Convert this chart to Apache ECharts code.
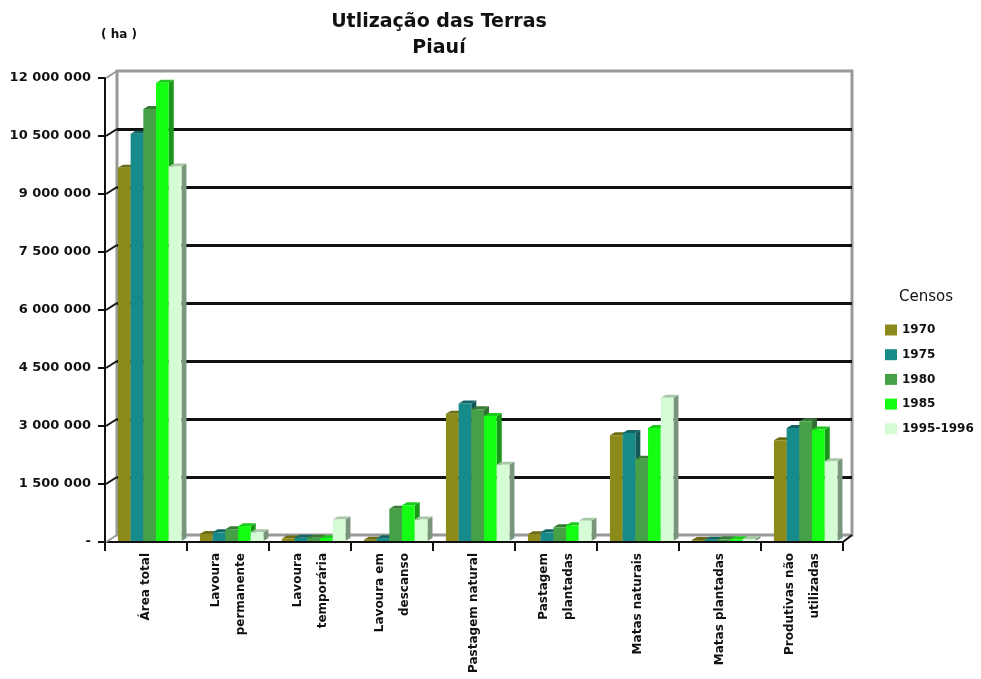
<!DOCTYPE html>
<html>
<head>
<meta charset="utf-8">
<script src="https://cdn.jsdelivr.net/npm/echarts@6/dist/echarts.min.js"></script>
<style>html,body{margin:0;padding:0;background:#fff}#c{width:981px;height:679px}</style>
</head>
<body>
<div id="c"></div>
<script>
const categories = ['Área total', 'Lavoura\npermanente', 'Lavoura\ntemporária', 'Lavoura em\ndescanso', 'Pastagem natural', 'Pastagem\nplantadas', 'Matas naturais', 'Matas plantadas', 'Produtivas não\nutilizadas'];
const seriesNames = ['1970', '1975', '1980', '1985', '1995-1996'];
const s1970 = [9680000, 210000, 90000, 60000, 3320000, 200000, 2760000, 50000, 2630000];
const s1975 = [10560000, 250000, 110000, 100000, 3580000, 250000, 2820000, 60000, 2950000];
const s1980 = [11200000, 330000, 110000, 860000, 3430000, 380000, 2150000, 70000, 3120000];
const s1985 = [11880000, 410000, 100000, 950000, 3260000, 430000, 2950000, 70000, 2910000];
const s1995 = [9710000, 250000, 580000, 580000, 2000000, 550000, 3730000, 80000, 2090000];
const yTicks = [0, 1500000, 3000000, 4500000, 6000000, 7500000, 9000000, 10500000, 12000000];

const allValues = [s1970, s1975, s1980, s1985, s1995];
const frontColors = ['#8c8a1a', '#178a8a', '#46a046', '#14ff14', '#d6fcd6'];
const topColors = ['#6e6c14', '#146464', '#367a36', '#1cc81c', '#a8c8a8'];
const sideColors = ['#666414', '#145858', '#2f6e2f', '#1a961a', '#7a967a'];
const FONT = 'DejaVu Sans';

function fmt(v) {
  if (v === 0) return '-';
  return String(v).replace(/\B(?=(\d{3})+(?!\d))/g, ' ');
}

function makeBarSeries(si) {
  return {
    type: 'custom',
    name: seriesNames[si],
    xAxisIndex: 0, yAxisIndex: 0,
    itemStyle: { color: frontColors[si] },
    data: allValues[si].map((v, i) => [i, v]),
    z: 5 + si,
    renderItem: function (params, api) {
      const ci = api.value(0), v = api.value(1);
      const base = api.coord([ci, 0]);
      const top = api.coord([ci, v]);
      const band = api.size([1, 0])[0];
      const bw = band * 0.155;
      const x0 = base[0] - band * 0.775 / 2 + band * 0.045 + si * bw;
      const dx = 5, dy = 3;
      const yb = base[1] - 1, yt = top[1];
      return {
        type: 'group',
        children: [
          { type: 'polygon', shape: { points: [[x0 + bw, yt], [x0 + bw + dx, yt - dy], [x0 + bw + dx, yb - dy], [x0 + bw, yb]] }, style: { fill: sideColors[si] } },
          { type: 'polygon', shape: { points: [[x0, yt], [x0 + dx, yt - dy], [x0 + bw + dx, yt - dy], [x0 + bw, yt]] }, style: { fill: topColors[si] } },
          { type: 'rect', shape: { x: x0, y: yt, width: bw, height: yb - yt }, style: { fill: frontColors[si] } }
        ]
      };
    }
  };
}

const chart = echarts.init(document.getElementById('c'), null, { renderer: 'canvas' });
const option = {
  backgroundColor: '#fff',
  animation: false,
  title: [
    { text: 'Utlização das Terras\nPiauí', left: 434, top: 4, textAlign: 'center',
      textStyle: { fontFamily: FONT, fontSize: 19, fontWeight: 'bold', color: '#111', lineHeight: 26 } },
    { text: '( ha )', left: 96, top: 24,
      textStyle: { fontFamily: FONT, fontSize: 12, fontWeight: 'bold', color: '#111' } },
    { text: 'Censos', left: 894, top: 285,
      textStyle: { fontFamily: FONT, fontSize: 15, fontWeight: 'normal', color: '#111' } }
  ],
  legend: {
    orient: 'vertical', left: 880, top: 319,
    itemWidth: 12, itemHeight: 11, itemGap: 12.7,
    icon: 'rect',
    data: seriesNames,
    textStyle: { fontFamily: FONT, fontSize: 12, fontWeight: 'bold', color: '#111' }
  },
  grid: [
    { left: 105, right: 138, top: 78, bottom: 137, show: false },
    { left: 117, right: 129, top: 71, bottom: 144, show: true, borderColor: '#999', borderWidth: 3, backgroundColor: 'transparent' }
  ],
  xAxis: [
    { gridIndex: 0, type: 'category', data: categories, boundaryGap: true,
      axisLine: { lineStyle: { color: '#111', width: 2 } },
      axisTick: { show: true, length: 9, lineStyle: { color: '#111', width: 2 } },
      axisLabel: { rotate: 90, interval: 0, margin: 11, fontFamily: FONT, fontSize: 12, fontWeight: 'bold', color: '#111', lineHeight: 25 } },
    { gridIndex: 1, type: 'category', data: categories, show: false }
  ],
  yAxis: [
    { gridIndex: 0, type: 'value', min: 0, max: 12000000, interval: 1500000,
      axisLine: { show: true, lineStyle: { color: '#111', width: 2 } },
      axisTick: { show: true, length: 7, lineStyle: { color: '#111', width: 2 } },
      splitLine: { show: false },
      axisLabel: { formatter: fmt, margin: 14, fontFamily: FONT, fontSize: 13, fontWeight: 'bold', color: '#111' } },
    { gridIndex: 1, type: 'value', min: 0, max: 12000000, interval: 1500000,
      axisLine: { show: false }, axisTick: { show: false }, axisLabel: { show: false },
      splitLine: { show: true, showMinLine: false, showMaxLine: false, lineStyle: { color: '#111', width: 3 } } }
  ],
  series: [
    {
      type: 'custom', name: 'wall', xAxisIndex: 0, yAxisIndex: 0, silent: true, z: 3,
      data: yTicks.map(v => [0, v]),
      renderItem: function (params, api) {
        const v = api.value(1);
        const y = api.coord([0, v])[1];
        const x = params.coordSys.x;
        const edge = (v === 0 || v === 12000000);
        return { type: 'line', shape: { x1: x + 1, y1: y, x2: x + 12, y2: y - 7 },
          style: { stroke: edge ? '#999' : '#111', lineWidth: 2 } };
      }
    },
    {
      type: 'custom', name: 'corner', xAxisIndex: 0, yAxisIndex: 0, silent: true, z: 3,
      data: [[8, 0]],
      renderItem: function (params, api) {
        const cs = params.coordSys;
        const x = cs.x + cs.width, y = cs.y + cs.height;
        return { type: 'line', shape: { x1: x, y1: y, x2: x + 9, y2: y - 7 },
          style: { stroke: '#111', lineWidth: 2 } };
      }
    },
    makeBarSeries(0), makeBarSeries(1), makeBarSeries(2), makeBarSeries(3), makeBarSeries(4)
  ]
};
chart.setOption(option);
</script>
</body>
</html>
